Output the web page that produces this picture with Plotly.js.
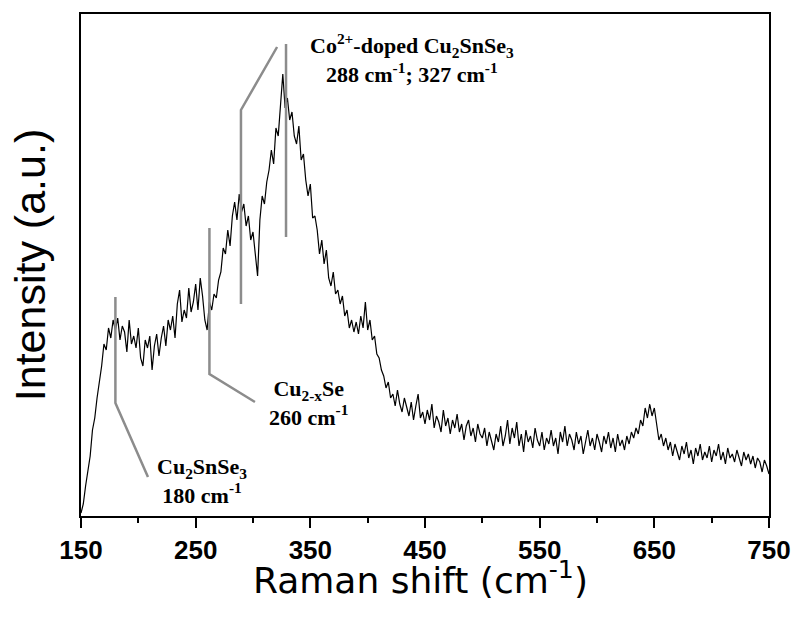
<!DOCTYPE html>
<html>
<head>
<meta charset="utf-8">
<script src="https://cdn.plot.ly/plotly-3.0.1.min.js"></script>
<style>html,body{margin:0;padding:0;background:#fff;}#chart{width:799px;height:619px;}</style>
</head>
<body>
<div id="chart"></div>
<script>
// Raman shift (cm-1), sampled every 2 cm-1 from 150 to 750
const ramanShift = [];
for (let v = 150; v <= 750; v += 2) ramanShift.push(v);

// Intensity (a.u.)
const intensity = [
  // 150-180
  3, 12, 30, 44, 60, 86, 98, 118, 132, 150, 172, 166, 188, 178, 196, 186,
  // 182-260
  198, 176, 190, 184, 164, 196, 172, 180, 168, 188,
  158, 150, 176, 168, 180, 146, 170, 182, 160, 178,
  190, 170, 196, 186, 200, 178, 212, 226, 194, 206,
  198, 228, 204, 214, 232, 206, 238, 220, 196, 186,
  // 262-330
  214, 206, 222, 218, 236, 244, 268, 262, 286, 270,
  300, 314, 296, 322, 304, 312, 290, 300, 276, 284,
  262, 240, 296, 320, 312, 334, 346, 366, 352, 388,
  380, 414, 442, 408, 418,
  // 332-410
  396, 404, 380, 372, 390, 356, 362, 336, 320, 332,
  298, 300, 286, 262, 276, 252, 266, 238, 230, 244,
  222, 226, 212, 220, 200, 206, 188, 196, 184, 194,
  182, 200, 188, 214, 186, 196, 176, 180, 162, 158,
  // 412-500
  146, 140, 128, 134, 118, 122, 110, 126, 112, 104,
  118, 108, 100, 114, 96, 110, 122, 98, 104, 92,
  106, 96, 112, 88, 100, 94, 84, 106, 90, 98,
  82, 96, 88, 102, 84, 92, 76, 90, 96, 80,
  88, 74, 92, 82, 78,
  // 502-630
  88, 70, 84, 76, 66, 82, 74, 90, 70, 80,
  96, 72, 88, 78, 94, 70, 82, 64, 86, 74,
  80, 68, 88, 76, 70, 84, 66, 78, 72, 86,
  70, 78, 62, 84, 74, 90, 70, 82, 76, 66,
  84, 72, 80, 62, 76, 86, 70, 78, 66, 82,
  74, 64, 80, 72, 84, 68, 78, 64, 82, 70,
  76, 66, 80, 72, 84,
  // 632-660
  78, 88, 82, 96, 90, 108, 98, 112, 100, 108,
  92, 76, 82, 70, 78,
  // 662-750
  66, 74, 60, 72, 64, 56, 70, 62, 74, 58,
  66, 52, 68, 60, 72, 56, 64, 58, 70, 54,
  66, 60, 72, 56, 64, 52, 68, 58, 62, 54,
  66, 58, 50, 64, 56, 62, 52, 60, 48, 58,
  54, 44, 56, 50, 42
];

const tickVals = [150, 250, 350, 450, 550, 650, 750];

const trace = {
  x: ramanShift,
  y: intensity,
  type: 'scatter',
  mode: 'lines',
  line: {color: '#000000', width: 1.2},
  hoverinfo: 'x+y'
};

const gray = {color: '#8c8c8c', width: 2.5};
const annFont = {family: 'Liberation Serif, Times New Roman, serif', size: 22, color: '#000'};

const layout = {
  width: 799,
  height: 619,
  margin: {l: 81, r: 30, t: 14, b: 103},
  paper_bgcolor: '#ffffff',
  plot_bgcolor: '#ffffff',
  showlegend: false,
  xaxis: {
    range: [150, 750],
    tickmode: 'array',
    tickvals: tickVals,
    ticktext: tickVals.map(String),
    ticks: 'outside',
    ticklen: 10,
    tickwidth: 2,
    tickcolor: '#000',
    minor: {dtick: 50, tick0: 150, ticks: 'outside', ticklen: 5, tickwidth: 2, tickcolor: '#000', showgrid: false},
    showline: true,
    linecolor: '#000',
    linewidth: 2,
    mirror: true,
    showgrid: false,
    zeroline: false,
    tickfont: {family: 'Liberation Sans, Arial, sans-serif', size: 26, color: '#000', weight: 'bold'}
  },
  yaxis: {
    range: [0, 502],
    showticklabels: false,
    ticks: '',
    showline: true,
    linecolor: '#000',
    linewidth: 2,
    mirror: true,
    showgrid: false,
    zeroline: false,
    title: {
      text: 'Intensity (a.u.)',
      font: {family: 'Liberation Sans, Arial, sans-serif', size: 43, color: '#000'},
      standoff: 20
    }
  },
  shapes: [
    {type: 'path', xref: 'x', yref: 'y', path: 'M180,219 L180,113 L208.4,39', line: gray},
    {type: 'path', xref: 'x', yref: 'y', path: 'M262,288 L262,142 L301.7,114', line: gray},
    {type: 'path', xref: 'x', yref: 'y', path: 'M289.5,212 L289.5,406 L321,469', line: gray},
    {type: 'path', xref: 'x', yref: 'y', path: 'M328.8,279 L328.8,472', line: gray}
  ],
  annotations: [
    {xref: 'paper', yref: 'paper', x: 0.494, y: -0.124, xanchor: 'center', yanchor: 'middle', showarrow: false,
     text: 'Raman shift (cm<sup>-1</sup>)', font: {family: 'DejaVu Sans, Liberation Sans, Arial, sans-serif', size: 36, color: '#000'}},
    {xref: 'x', yref: 'y', x: 438.7, y: 458, xanchor: 'center', yanchor: 'middle', showarrow: false, align: 'center',
     text: '<b>Co<sup>2+</sup>-doped Cu<sub>2</sub>SnSe<sub>3</sub><br>288 cm<sup>-1</sup>; 327 cm<sup>-1</sup></b>', font: annFont},
    {xref: 'x', yref: 'y', x: 348, y: 113, xanchor: 'center', yanchor: 'middle', showarrow: false, align: 'center',
     text: '<b>Cu<sub>2-x</sub>Se<br>260 cm<sup>-1</sup></b>', font: annFont},
    {xref: 'x', yref: 'y', x: 255.5, y: 35, xanchor: 'center', yanchor: 'middle', showarrow: false, align: 'center',
     text: '<b>Cu<sub>2</sub>SnSe<sub>3</sub><br>180 cm<sup>-1</sup></b>', font: annFont}
  ]
};

Plotly.newPlot('chart', [trace], layout, {displayModeBar: false, staticPlot: true});
</script>
</body>
</html>
